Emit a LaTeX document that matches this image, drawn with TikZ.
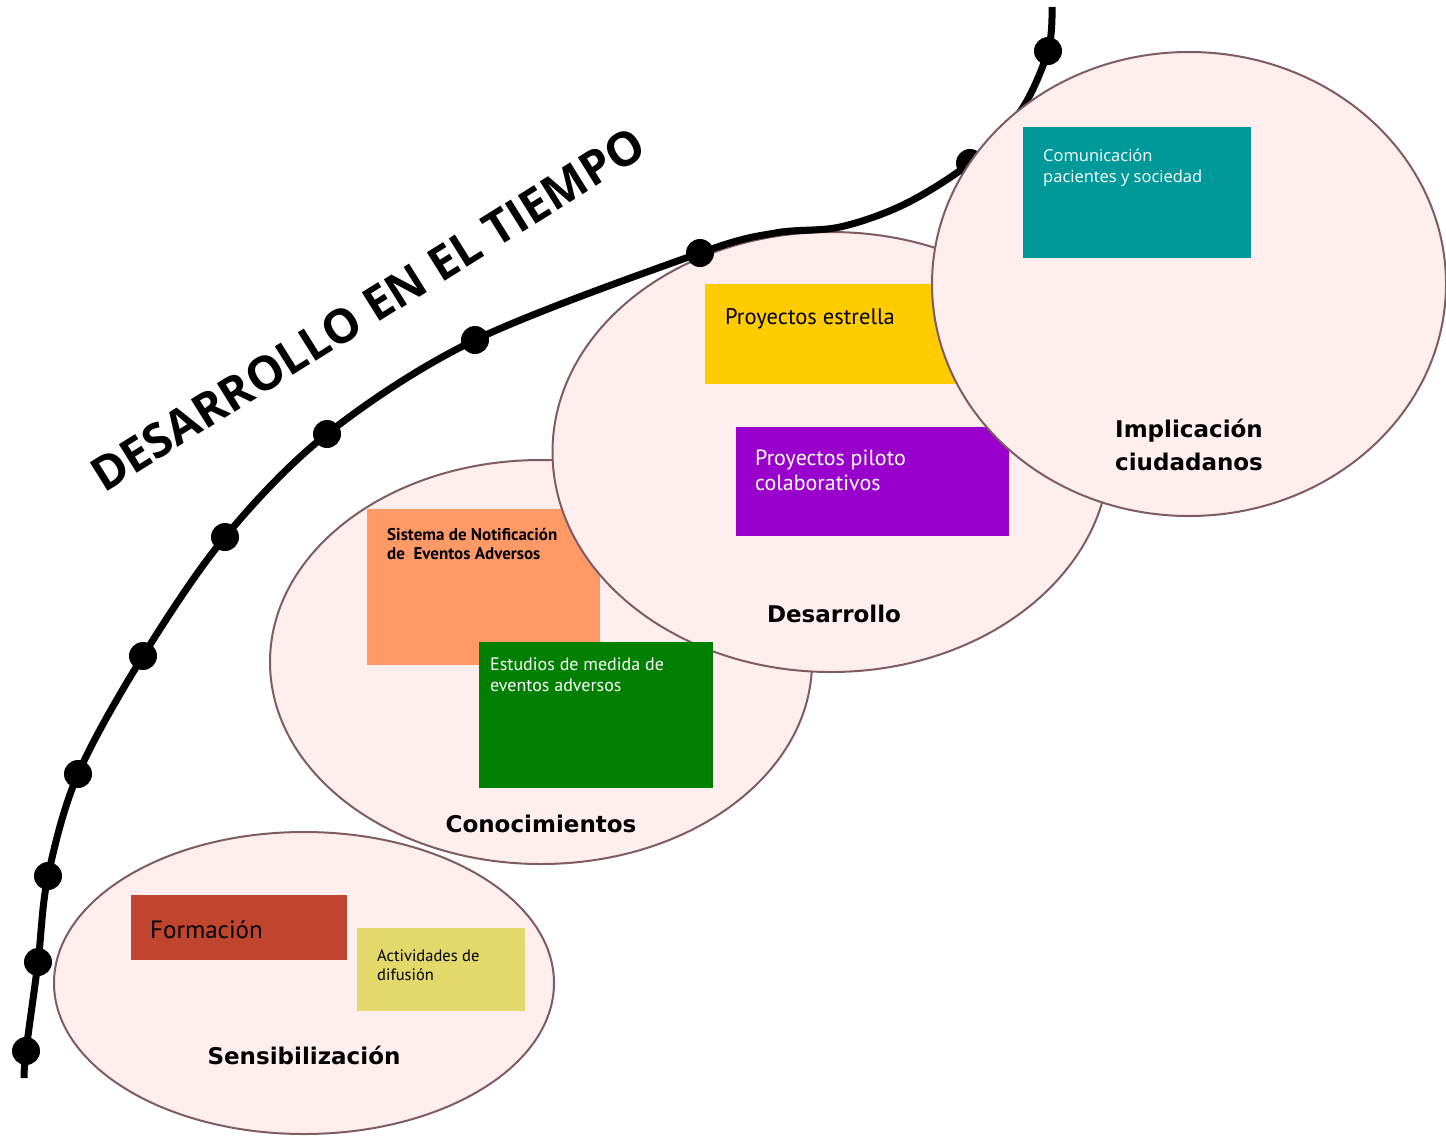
\documentclass[tikz,border=0pt]{standalone}
\usepackage{fontspec}
\setmainfont{PT Sans}
\newfontfamily\labelfont{DejaVu Sans}
\newfontfamily\titlefont{Open Sans}
\usetikzlibrary{shapes.geometric,positioning}

\definecolor{stageFill}{RGB}{255,238,238}
\definecolor{stageLine}{RGB}{125,92,98}
\definecolor{formRed}{RGB}{191,69,47}
\definecolor{difYellow}{RGB}{227,217,107}
\definecolor{notifOrange}{RGB}{255,153,102}
\definecolor{estGreen}{RGB}{0,128,0}
\definecolor{starYellow}{RGB}{255,204,0}
\definecolor{pilotPurple}{RGB}{153,0,204}
\definecolor{comTeal}{RGB}{0,153,153}

\tikzset{
  stage/.style={ellipse, draw=stageLine, line width=2pt, fill=stageFill, inner sep=0pt},
  box/.style={rectangle, inner sep=0pt, anchor=north west},
  boxtext/.style={anchor=north west, inner sep=0pt, align=left,
    execute at begin node={\rule{0pt}{1.1em}}},
  stagelabel/.style={font=\labelfont\bfseries\fontsize{23}{33}\selectfont, align=center, inner sep=0pt},
  timeline/.style={line width=7pt},
  timedot/.style={circle, fill=black, inner sep=0pt, minimum size=28pt}
}

\begin{document}
\begin{tikzpicture}[x=1pt,y=-1pt]
  \useasboundingbox (0,0) rectangle (1446,1136);

  % sensibilizacion
  \node[stage, minimum width=500pt, minimum height=302pt] (sens) at (304,983) {};
  \node[box, fill=formRed, minimum width=216pt, minimum height=65pt] (formacion) at (131,895) {};
  \node[boxtext, font=\fontsize{25}{28}\selectfont] (formacionTxt)
    at ([shift={(19,16)}]formacion.north west) {Formación};
  \node[box, fill=difYellow, minimum width=168pt, minimum height=83pt] (difusion) at (357,928) {};
  \node[boxtext, font=\fontsize{16.5}{19}\selectfont] (difusionTxt)
    at ([shift={(20,22)}]difusion.north west) {Actividades de\\difusión};
  \node[stagelabel, anchor=base] (sensLbl) at (304,1064) {Sensibilización};

  % conocimientos
  \node[stage, minimum width=542pt, minimum height=404pt] (cono) at (541,662) {};
  \node[box, fill=notifOrange, minimum width=233pt, minimum height=156pt] (sistema) at (367,509) {};
  \node[boxtext, font=\bfseries\fontsize{17}{19}\selectfont] (sistemaTxt)
    at ([shift={(20,19)}]sistema.north west) {Sistema de Notificación\\de\ \ Eventos Adversos};
  \node[stagelabel, anchor=base] (conoLbl) at (541,832) {Conocimientos};

  % desarrollo
  \node[stage, minimum width=557pt, minimum height=440pt] (desa) at (831,452) {};
  \node[box, fill=estGreen, minimum width=234pt, minimum height=146pt] (estudios) at (479,642) {};
  \node[boxtext, text=white, font=\fontsize{18}{21}\selectfont] (estudiosTxt)
    at ([shift={(11,16)}]estudios.north west) {Estudios de medida de\\eventos adversos};
  \node[box, fill=starYellow, minimum width=255pt, minimum height=100pt] (estrella) at (705,284) {};
  \node[boxtext, font=\fontsize{22.5}{25}\selectfont] (estrellaTxt)
    at ([shift={(20,16)}]estrella.north west) {Proyectos estrella};
  \node[box, fill=pilotPurple, minimum width=273pt, minimum height=109pt] (piloto) at (736,427) {};
  \node[boxtext, text=white, font=\fontsize{22}{25}\selectfont] (pilotoTxt)
    at ([shift={(19,23)}]piloto.north west) {Proyectos piloto\\colaborativos};
  \node[stagelabel, anchor=base] (desaLbl) at (834,622) {Desarrollo};

  % linea del tiempo
  \foreach \n/\x/\y in {1/26/1051, 2/38/962, 3/48/876, 4/78/774, 5/143/656, 6/225/537,
                        7/327/434, 8/475/340, 9/700/253, 10/970/163, 11/1048/51}
    \coordinate (p\n) at (\x,\y);
  \coordinate (q0) at (24,1078);
  \coordinate (q1) at (775,233);
  \coordinate (q2) at (840,227);
  \coordinate (q3) at (905,204);
  \coordinate (q4) at (1020,112);
  \coordinate (q5) at (1052,7);
  \draw[timeline] plot[smooth, tension=0.55] coordinates
    {(q0) (p1) (p2) (p3) (p4) (p5) (p6) (p7) (p8) (p9) (q1) (q2) (q3) (p10) (q4) (p11) (q5)};
  \foreach \n in {1,...,11}
    \node[timedot] (dot\n) at (p\n) {};

  \node[anchor=base west, rotate=32, inner sep=0pt, font=\titlefont\bfseries\fontsize{47}{50}\selectfont]
    (titulo) at (104,494) {DESARROLLO EN EL TIEMPO};

  % implicacion ciudadanos
  \node[stage, minimum width=514pt, minimum height=464pt] (impl) at (1189,284) {};
  \node[box, fill=comTeal, minimum width=228pt, minimum height=131pt] (comunic) at (1023,127) {};
  \node[boxtext, text=white, font=\titlefont\fontsize{16.5}{21}\selectfont] (comunicTxt)
    at ([shift={(20,22)}]comunic.north west) {Comunicación\\pacientes y sociedad};
  \node[stagelabel] (implLbl) at (1189,445) {Implicación\\ciudadanos};
\end{tikzpicture}
\end{document}
